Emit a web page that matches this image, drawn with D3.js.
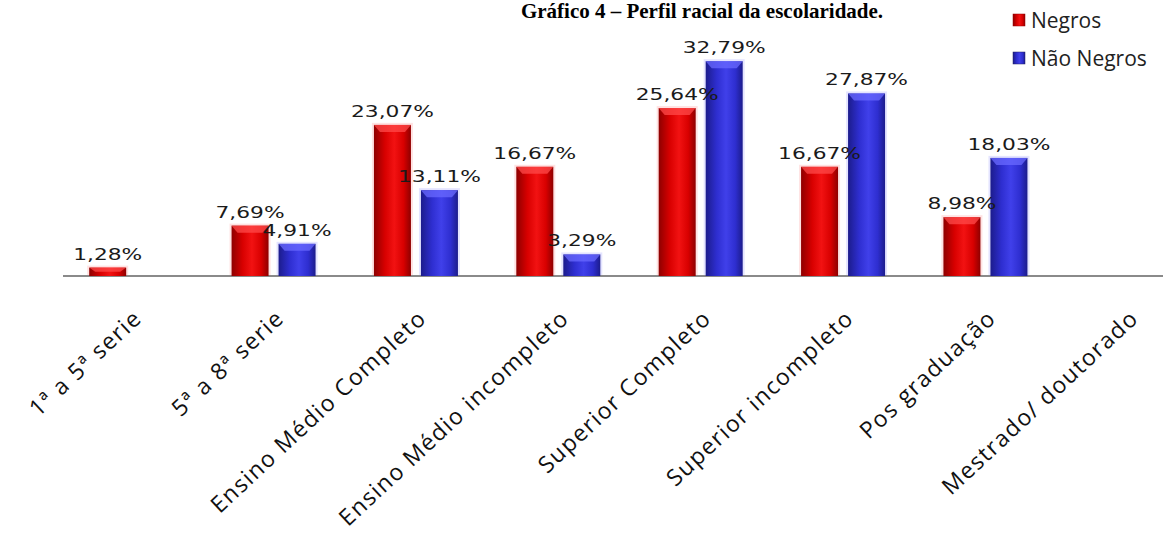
<!DOCTYPE html>
<html><head><meta charset="utf-8">
<script src="https://cdn.jsdelivr.net/npm/d3@7"></script>
<style>html,body{margin:0;padding:0;background:#fff;overflow:hidden}</style>
</head><body>
<svg id="chart" width="1163" height="534"></svg>
<script>
const title = "Gráfico 4 – Perfil racial da escolaridade.";
const categories = ["1ª a 5ª serie","5ª a 8ª serie","Ensino Médio Completo","Ensino Médio incompleto","Superior Completo","Superior incompleto","Pos graduação","Mestrado/ doutorado"];
const seriesNames = ["Negros","Não Negros"];
const negros =    [1.28, 7.69, 23.07, 16.67, 25.64, 16.67, 8.98, null];
const naoNegros = [null, 4.91, 13.11, 3.29, 32.79, 27.87, 18.03, null];

const svg = d3.select("#chart");
const W = 1163, H = 534;
const axisY = 276;

const x0 = d3.scaleBand().domain(categories).range([60, 1199]).paddingInner(0).paddingOuter(0);
const x1 = d3.scaleBand().domain(seriesNames).range([-42, 42]).paddingInner(10/47).paddingOuter(0);
const y = d3.scaleLinear().domain([0, 40]).range([axisY, axisY - 262]);

const defs = svg.append("defs");
function grad(id, edge, mid, hi){
  const g = defs.append("linearGradient").attr("id", id).attr("x1","0").attr("x2","1").attr("y1","0").attr("y2","0");
  g.append("stop").attr("offset","0%").attr("stop-color",edge);
  g.append("stop").attr("offset","30%").attr("stop-color",mid);
  g.append("stop").attr("offset","55%").attr("stop-color",hi);
  g.append("stop").attr("offset","80%").attr("stop-color",mid);
  g.append("stop").attr("offset","100%").attr("stop-color",edge);
}
grad("gRed", "#8e0000", "#d80000", "#f21212");
grad("gBlue", "#1c1c8c", "#2e2ed0", "#4040ea");
const colors = {"Negros": "url(#gRed)", "Não Negros": "url(#gBlue)"};
const capColors = {"Negros": "#ff4a4a", "Não Negros": "#6a6aff"};
const glow = {"Negros": "#ffd6d6", "Não Negros": "#d8d8ff"};

// title
svg.append("text").attr("x", 702).attr("y", 18).attr("text-anchor","middle")
  .style("font-family","'Liberation Serif', serif").style("font-weight","bold").style("font-size","21px")
  .attr("fill","#000").text(title);

// axis line
svg.append("line").attr("x1", 63).attr("x2", W).attr("y1", axisY).attr("y2", axisY)
  .attr("stroke","#8a8a8a").attr("stroke-width",2);

// bars
const rows = [];
categories.forEach((c,i)=>{
  rows.push({cat:c, s:"Negros", v:negros[i]});
  rows.push({cat:c, s:"Não Negros", v:naoNegros[i]});
});
const data = rows.filter(d=>d.v!=null);

const g = svg.append("g");
data.forEach(d=>{
  const bx = x0(d.cat) + x0.bandwidth()/2 + x1(d.s);
  const bw = x1.bandwidth();
  const top = y(d.v), h = axisY - top;
  g.append("rect").attr("x", bx-2).attr("y", top-2).attr("width", bw+4).attr("height", h+1)
    .attr("fill", glow[d.s]).attr("opacity",0.7);
  g.append("rect").attr("x", bx).attr("y", top).attr("width", bw).attr("height", h)
    .attr("fill", colors[d.s]);
  const capH = Math.min(7, h*0.5);
  g.append("path").attr("d", `M${bx},${top} L${bx+bw},${top} L${bx+bw-6},${top+capH} L${bx+6},${top+capH} Z`)
    .attr("fill", capColors[d.s]).attr("opacity",0.75);
});

// value labels
data.forEach(d=>{
  const cx = x0(d.cat) + x0.bandwidth()/2 + x1(d.s) + x1.bandwidth()/2;
  const ty = y(d.v) - 8;
  svg.append("text").attr("transform", `translate(${cx},${ty}) scale(1.36,1)`)
    .attr("text-anchor","middle")
    .style("font-family","'DejaVu Sans', Verdana, sans-serif").style("font-size","16px")
    .attr("fill","#1a1a1a")
    .text(d3.format(".2f")(d.v).replace(".", ",") + "%");
});

// category labels
categories.forEach(c=>{
  const cx = x0(c) + x0.bandwidth()/2 + 12;
  svg.append("text").attr("transform", `translate(${cx},${320}) rotate(-43)`)
    .attr("text-anchor","end")
    .style("font-family","'Open Sans', sans-serif").style("font-size","23px")
    .style("letter-spacing","1.4px")
    .attr("fill","#111").text(c);
});

// legend
const lg = svg.append("g");
seriesNames.forEach((s,i)=>{
  const ly = 21 + i*38;
  lg.append("rect").attr("x",1013).attr("y",ly-7).attr("width",12).attr("height",12)
    .attr("fill", colors[s]).attr("stroke", i===0?"#900":"#226").attr("stroke-width",0.5);
  lg.append("text").attr("x",1031).attr("y",ly+7)
    .style("font-family","'Open Sans', sans-serif").style("font-size","21px")
    .attr("fill","#222").text(s);
});
</script>
</body></html>
